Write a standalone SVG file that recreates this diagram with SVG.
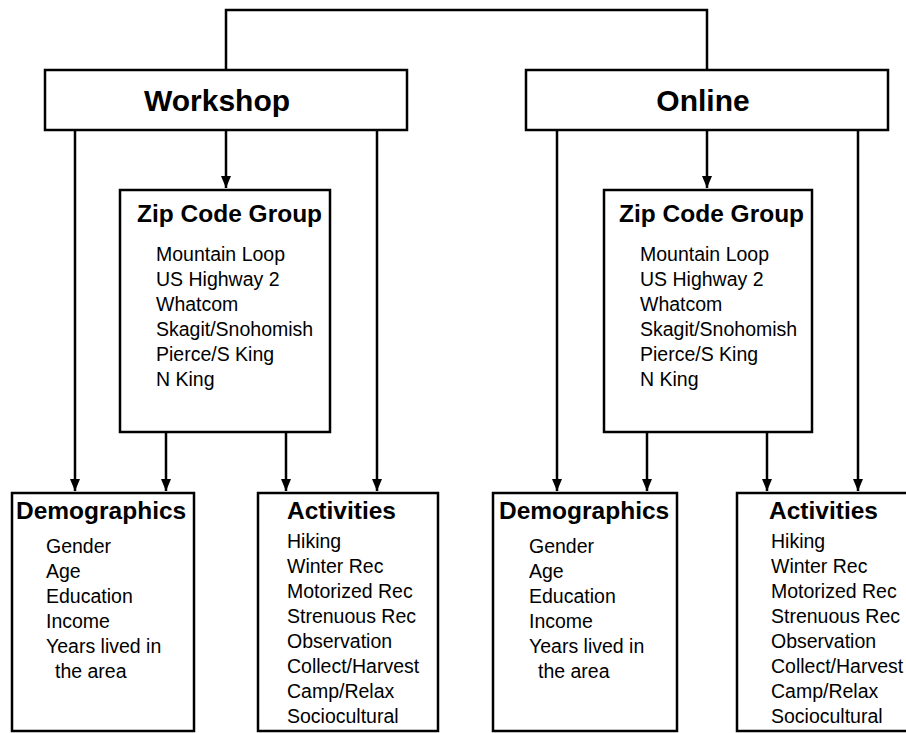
<svg xmlns="http://www.w3.org/2000/svg" width="906" height="733" viewBox="0 0 906 733">
<defs>
<marker id="arr" viewBox="0 0 12 10" refX="12" refY="5" markerWidth="12" markerHeight="10" markerUnits="userSpaceOnUse" orient="auto">
<path d="M0,0 L12,5 L0,10 Z" fill="#000"/>
</marker>
<style>
.box{fill:#fff;stroke:#000;stroke-width:2.5}
.ln{fill:none;stroke:#000;stroke-width:2.5}
.ar{fill:none;stroke:#000;stroke-width:2.5;marker-end:url(#arr)}
.h1{font-family:"Liberation Sans",Arial,sans-serif;font-weight:bold;font-size:30px;text-anchor:middle}
.h2{font-family:"Liberation Sans",Arial,sans-serif;font-weight:bold;font-size:24.5px}
.it{font-family:"Liberation Sans",Arial,sans-serif;font-size:19.5px}
</style>
</defs>
<rect width="906" height="733" fill="#fff"/>
<g id="connectors">
<path class="ln" d="M226,70 V10 H707 V70"/>
<path class="ar" d="M75,130 V491"/>
<path class="ar" d="M226,130 V188"/>
<path class="ar" d="M377,130 V491"/>
<path class="ar" d="M166,432 V491"/>
<path class="ar" d="M286,432 V491"/>
<path class="ar" d="M557,130 V491"/>
<path class="ar" d="M707,130 V188"/>
<path class="ar" d="M858,130 V491"/>
<path class="ar" d="M647,432 V491"/>
<path class="ar" d="M767,432 V491"/>
</g>
<g id="workshop">
<rect class="box" x="45" y="70" width="362" height="60"/>
<text class="h1" x="217" y="111">Workshop</text>
</g>
<g id="online">
<rect class="box" x="526" y="70" width="362" height="60"/>
<text class="h1" x="703" y="111">Online</text>
</g>
<g id="zip-workshop">
<rect class="box" x="120" y="190" width="210" height="242"/>
<text class="h2" x="137" y="222">Zip Code Group</text>
<text class="it" x="156" y="261">Mountain Loop</text>
<text class="it" x="156" y="286">US Highway 2</text>
<text class="it" x="156" y="311">Whatcom</text>
<text class="it" x="156" y="336">Skagit/Snohomish</text>
<text class="it" x="156" y="361">Pierce/S King</text>
<text class="it" x="156" y="386">N King</text>
</g>
<g id="zip-online">
<rect class="box" x="604" y="190" width="208" height="242"/>
<text class="h2" x="619" y="222">Zip Code Group</text>
<text class="it" x="640" y="261">Mountain Loop</text>
<text class="it" x="640" y="286">US Highway 2</text>
<text class="it" x="640" y="311">Whatcom</text>
<text class="it" x="640" y="336">Skagit/Snohomish</text>
<text class="it" x="640" y="361">Pierce/S King</text>
<text class="it" x="640" y="386">N King</text>
</g>
<g id="demographics-workshop">
<rect class="box" x="12" y="493" width="182" height="238"/>
<text class="h2" x="16" y="519">Demographics</text>
<text class="it" x="46" y="553">Gender</text>
<text class="it" x="46" y="578">Age</text>
<text class="it" x="46" y="603">Education</text>
<text class="it" x="46" y="628">Income</text>
<text class="it" x="46" y="653">Years lived in</text>
<text class="it" x="55" y="678">the area</text>
</g>
<g id="activities-workshop">
<rect class="box" x="258" y="493" width="180" height="238"/>
<text class="h2" x="287" y="519">Activities</text>
<text class="it" x="287" y="548">Hiking</text>
<text class="it" x="287" y="573">Winter Rec</text>
<text class="it" x="287" y="598">Motorized Rec</text>
<text class="it" x="287" y="623">Strenuous Rec</text>
<text class="it" x="287" y="648">Observation</text>
<text class="it" x="287" y="673">Collect/Harvest</text>
<text class="it" x="287" y="698">Camp/Relax</text>
<text class="it" x="287" y="723">Sociocultural</text>
</g>
<g id="demographics-online">
<rect class="box" x="493" y="493" width="184" height="238"/>
<text class="h2" x="499" y="519">Demographics</text>
<text class="it" x="529" y="553">Gender</text>
<text class="it" x="529" y="578">Age</text>
<text class="it" x="529" y="603">Education</text>
<text class="it" x="529" y="628">Income</text>
<text class="it" x="529" y="653">Years lived in</text>
<text class="it" x="538" y="678">the area</text>
</g>
<g id="activities-online">
<rect class="box" x="737" y="493" width="180" height="238"/>
<text class="h2" x="769" y="519">Activities</text>
<text class="it" x="771" y="548">Hiking</text>
<text class="it" x="771" y="573">Winter Rec</text>
<text class="it" x="771" y="598">Motorized Rec</text>
<text class="it" x="771" y="623">Strenuous Rec</text>
<text class="it" x="771" y="648">Observation</text>
<text class="it" x="771" y="673">Collect/Harvest</text>
<text class="it" x="771" y="698">Camp/Relax</text>
<text class="it" x="771" y="723">Sociocultural</text>
</g>
</svg>
